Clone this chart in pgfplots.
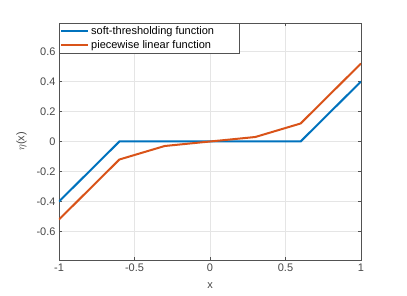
\documentclass[border=0pt]{standalone}
\usepackage{pgfplots}
\pgfplotsset{compat=1.18}
\usepackage{fontspec}
\setmainfont{Liberation Sans}
\definecolor{mblue}{rgb}{0,0.447,0.741}
\definecolor{morange}{rgb}{0.85,0.325,0.098}
\definecolor{axgray}{rgb}{0.15,0.15,0.15}
\begin{document}
\begin{tikzpicture}
\begin{axis}[
  scale only axis, width=302pt, height=237pt,
  xmin=-1, xmax=1, ymin=-0.79, ymax=0.79,
  xtick={-1,-0.5,0,0.5,1},
  ytick={-0.6,-0.4,-0.2,0,0.2,0.4,0.6},
  yticklabels={-0.6,-0.4,-0.2,0,0.2,0.4,0.6},
  xticklabels={-1,-0.5,0,0.5,1},
  grid=major, grid style={black!10},
  tick align=inside, major tick length=3pt,
  axis line style={axgray!80},
  tick style={axgray!80},
  tick label style={font=\fontsize{11}{13}\selectfont, text=axgray!85},
  label style={font=\fontsize{11}{13}\selectfont, text=axgray!85},
  xlabel={x}, ylabel={$\eta$(x)},
  xlabel style={yshift=-5pt},
  ylabel style={yshift=3pt},
  legend style={at={(0,1)}, anchor=north west, draw=axgray!80,
    font=\fontsize{11}{12}\selectfont, inner xsep=1pt, inner ysep=1.5pt,
    row sep=0pt, cells={anchor=west}},
  legend image code/.code={\draw[#1] (0pt,0pt) -- (27pt,0pt);},
]
\addplot[mblue, line width=2pt] coordinates {(-1,-0.4) (-0.6,0) (0.6,0) (1,0.4)};
\addlegendentry{soft-thresholding function\rule{22pt}{0pt}}
\addplot[morange, line width=2pt] coordinates {(-1,-0.52) (-0.6,-0.12) (-0.3,-0.03) (0,0) (0.3,0.03) (0.6,0.12) (1,0.52)};
\addlegendentry{piecewise linear function}
\end{axis}
\path (current axis.south west) ++(-59pt,-36pt) rectangle ++(407pt,296pt);
\end{tikzpicture}
\end{document}
